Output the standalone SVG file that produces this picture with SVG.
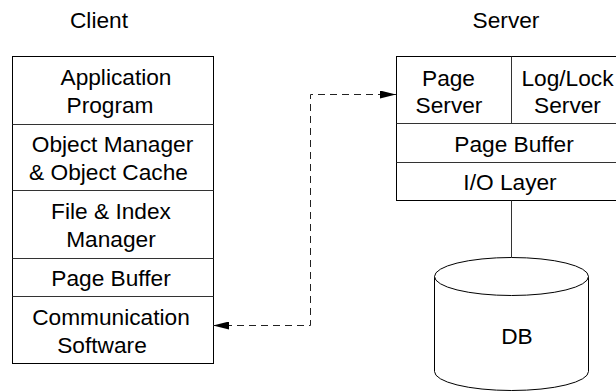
<svg xmlns="http://www.w3.org/2000/svg" width="616" height="391" viewBox="0 0 616 391">
  <defs>
    <style>
      .box { fill: #fff; stroke: #000; stroke-width: 1; }
      .div { fill: none; stroke: #333; stroke-width: 1; }
      .lbl { font-family: "Liberation Sans", Arial, sans-serif; font-size: 22.7px; fill: #000; text-anchor: middle; }
      .dash { fill: none; stroke: #222; stroke-width: 1; stroke-dasharray: 7 5; }
      .link { fill: none; stroke: #333; stroke-width: 1; }
    </style>
    <marker id="arrow" viewBox="0 0 16 8" refX="16" refY="4" markerWidth="16" markerHeight="8" markerUnits="userSpaceOnUse" orient="auto-start-reverse">
      <path d="M0,0 L16,4 L0,8 Z" fill="#000"/>
    </marker>
  </defs>

  <rect width="616" height="391" fill="#fff"/>

  <!-- column headings -->
  <text class="lbl" x="99" y="28">Client</text>
  <text class="lbl" x="506" y="28">Server</text>

  <!-- client layer stack -->
  <g id="client">
    <rect class="box" x="12.5" y="56.5" width="201" height="307"/>
    <line class="div" x1="12.5" y1="124.5" x2="213.5" y2="124.5"/>
    <line class="div" x1="12.5" y1="190.5" x2="213.5" y2="190.5"/>
    <line class="div" x1="12.5" y1="258.5" x2="213.5" y2="258.5"/>
    <line class="div" x1="12.5" y1="296.5" x2="213.5" y2="296.5"/>
    <text class="lbl" x="116" y="85">Application</text>
    <text class="lbl" x="110" y="113">Program</text>
    <text class="lbl" x="112.5" y="152">Object Manager</text>
    <text class="lbl" x="108.5" y="180">&amp; Object Cache</text>
    <text class="lbl" x="111" y="219">File &amp; Index</text>
    <text class="lbl" x="111" y="247">Manager</text>
    <text class="lbl" x="111" y="286">Page Buffer</text>
    <text class="lbl" x="111" y="325">Communication</text>
    <text class="lbl" x="102" y="353">Software</text>
  </g>

  <!-- server layer stack -->
  <g id="server">
    <rect class="box" x="396.5" y="56.5" width="230" height="144"/>
    <line class="div" x1="511.5" y1="56.5" x2="511.5" y2="123.5"/>
    <line class="div" x1="396.5" y1="123.5" x2="626" y2="123.5"/>
    <line class="div" x1="396.5" y1="162.5" x2="626" y2="162.5"/>
    <text class="lbl" x="448.5" y="86">Page</text>
    <text class="lbl" x="449" y="113">Server</text>
    <text class="lbl" x="567.5" y="86">Log/Lock</text>
    <text class="lbl" x="567.5" y="113">Server</text>
    <text class="lbl" x="514" y="152">Page Buffer</text>
    <text class="lbl" x="510" y="190">I/O Layer</text>
  </g>

  <!-- database -->
  <g id="db">
    <path class="box" d="M434.5,276.5 L434.5,371.5 A77,19 0 0 0 588.5,371.5 L588.5,276.5"/>
    <ellipse class="box" cx="511.5" cy="276.5" rx="77" ry="19"/>
    <text class="lbl" x="517" y="344">DB</text>
  </g>

  <!-- connectors -->
  <g id="connectors">
    <line class="link" x1="511.5" y1="200.5" x2="511.5" y2="257.5"/>
    <path class="dash" d="M213,325.5 H310.5 V94.5 H396" marker-start="url(#arrow)" marker-end="url(#arrow)"/>
  </g>
</svg>
